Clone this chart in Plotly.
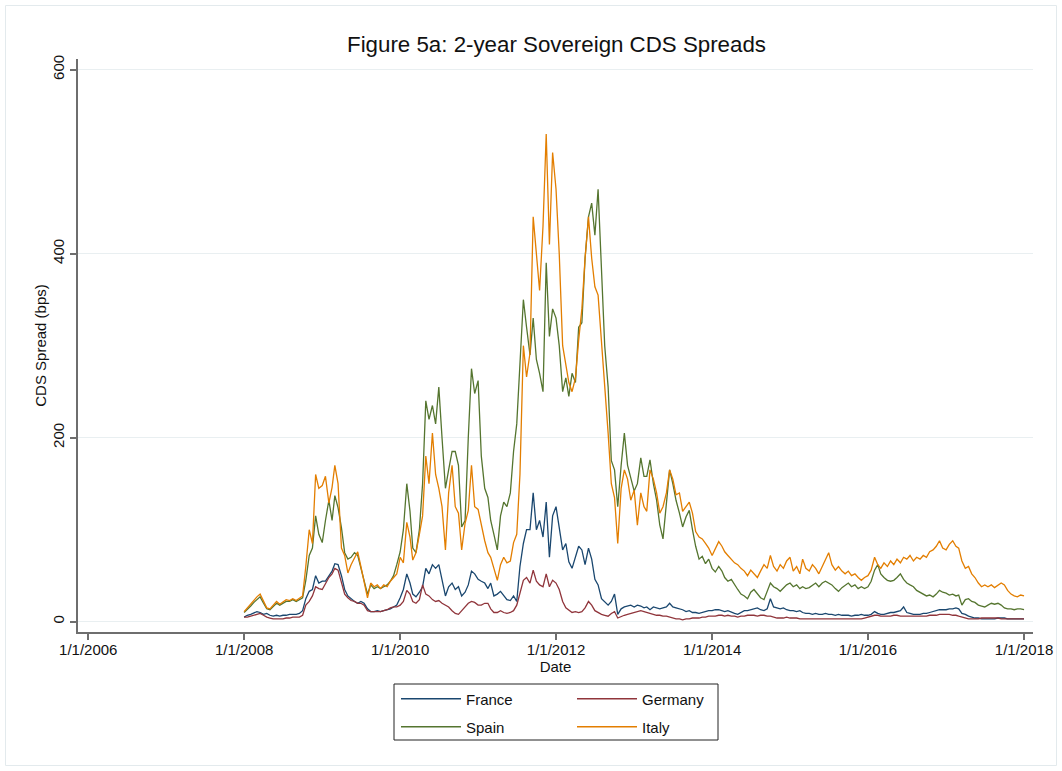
import plotly.graph_objects as go

# ---------------- data (semi-monthly readings, 2008-01-01 .. 2018-01-01) ----------------
dates = [f"{y}-{m:02d}-{d:02d}" for y in range(2008, 2018) for m in range(1, 13) for d in (1, 16)] + ["2018-01-01"]

italy = [
    11, 15, 20, 24, 27, 30, 22, 15, 14, 18, 22, 19, 22, 24, 23, 25, 23, 26, 28, 60, 100, 85, 160, 145,
    148, 158, 129, 146, 170, 150, 80, 72, 53, 62, 70, 76, 60, 42, 26, 42, 38, 40, 36, 40, 38, 44, 48, 52,
    70, 64, 108, 92, 67, 75, 95, 115, 180, 150, 205, 160, 145, 125, 78, 140, 170, 125, 118, 78, 107, 121, 170, 125,
    122, 105, 88, 75, 70, 58, 45, 62, 70, 64, 66, 86, 95, 160, 300, 266, 292, 440, 400, 360, 430, 530, 410, 510,
    470, 400, 300, 280, 260, 250, 265, 306, 340, 395, 440, 395, 364, 355, 305, 260, 205, 150, 135, 85, 145, 165, 155, 132,
    143, 105, 140, 125, 120, 165, 155, 140, 118, 125, 140, 165, 155, 138, 140, 120, 125, 130, 118, 98, 92, 90, 85, 80,
    72, 80, 87, 82, 76, 72, 68, 64, 62, 58, 55, 50, 56, 52, 48, 55, 62, 58, 72, 60, 55, 62, 58, 66,
    70, 55, 60, 52, 68, 58, 55, 62, 58, 52, 60, 66, 75, 62, 56, 60, 55, 52, 55, 50, 52, 48, 45, 48,
    50, 56, 70, 62, 58, 64, 60, 66, 62, 68, 64, 70, 68, 72, 66, 70, 68, 72, 70, 76, 78, 82, 88, 80,
    78, 84, 88, 82, 80, 66, 58, 60, 52, 48, 42, 38, 40, 38, 40, 37, 40, 42, 40, 34, 30, 28, 27, 29,
    28,
]

spain = [
    10, 13, 17, 21, 24, 27, 20, 14, 13, 16, 20, 18, 20, 22, 22, 24, 22, 24, 26, 45, 72, 80, 115, 95,
    86, 110, 132, 110, 137, 124, 102, 75, 68, 70, 75, 72, 58, 45, 30, 40, 36, 38, 36, 38, 40, 44, 50, 62,
    76, 100, 150, 120, 80, 75, 100, 150, 240, 220, 235, 215, 255, 200, 145, 165, 185, 185, 170, 103, 110, 200, 275, 248,
    262, 180, 145, 135, 110, 95, 78, 115, 130, 125, 140, 185, 215, 280, 350, 320, 290, 330, 285, 270, 250, 390, 310, 340,
    330, 300, 250, 265, 245, 270, 260, 320, 325, 395, 440, 455, 420, 470, 390, 300, 255, 175, 165, 125, 170, 205, 170, 155,
    142, 150, 178, 158, 158, 176, 150, 132, 105, 90, 125, 165, 150, 132, 118, 103, 114, 121, 100, 82, 68, 71, 63, 68,
    58, 54, 60, 55, 48, 44, 46, 40, 35, 30, 28, 25, 32, 35, 30, 26, 24, 32, 42, 38, 36, 33, 36, 40,
    42, 38, 40, 36, 38, 36, 37, 40, 42, 38, 42, 44, 42, 40, 36, 33, 37, 40, 42, 38, 40, 36, 38, 36,
    38, 44, 56, 62, 52, 48, 45, 44, 45, 48, 52, 46, 42, 40, 38, 34, 32, 30, 28, 29, 27, 30, 34, 32,
    31, 29, 30, 28, 29, 18, 24, 25, 22, 21, 18, 17, 16, 18, 20, 19, 20, 18, 15, 14, 14, 13, 14, 14,
    13,
]

france = [
    5, 7, 8, 10, 11, 10, 8, 9, 7, 6, 7, 6, 7, 7, 8, 8, 8, 9, 12, 25, 33, 35, 50, 42,
    44, 44, 50, 55, 63, 62, 50, 35, 28, 25, 22, 20, 22, 20, 14, 11, 11, 12, 11, 12, 13, 14, 16, 18,
    26, 35, 52, 42, 30, 27, 32, 38, 58, 52, 62, 58, 62, 45, 28, 38, 42, 35, 38, 28, 32, 40, 55, 52,
    46, 44, 42, 36, 42, 28, 30, 33, 28, 24, 23, 28, 22, 60, 85, 100, 100, 140, 100, 110, 92, 130, 70, 115,
    125, 100, 78, 85, 65, 58, 72, 82, 78, 62, 80, 68, 46, 40, 25, 22, 18, 22, 30, 8, 14, 16, 17, 18,
    16, 18, 17, 15, 16, 13, 16, 15, 14, 15, 16, 20, 16, 15, 14, 13, 11, 12, 10, 10, 9, 10, 11, 12,
    12, 13, 13, 12, 11, 12, 10, 9, 8, 10, 12, 12, 13, 14, 15, 13, 12, 14, 25, 16, 15, 14, 15, 13,
    12, 12, 11, 12, 10, 9, 9, 8, 9, 8, 8, 9, 8, 8, 7, 8, 7, 7, 7, 6, 7, 7, 8, 7,
    7, 8, 11, 9, 8, 8, 9, 10, 10, 11, 12, 16, 10, 9, 8, 8, 8, 9, 9, 10, 11, 12, 13, 13,
    13, 14, 14, 15, 14, 9, 8, 6, 5, 4, 4, 3, 3, 3, 3, 3, 4, 4, 4, 3, 3, 3, 3, 3,
    3,
]

germany = [
    5, 5, 6, 7, 8, 9, 7, 5, 4, 3, 3, 3, 3, 4, 4, 5, 5, 5, 7, 18, 22, 28, 38, 36,
    35, 42, 48, 52, 58, 56, 42, 30, 26, 23, 22, 20, 20, 18, 12, 11, 11, 11, 11, 12, 13, 15, 16, 16,
    18, 22, 34, 30, 22, 20, 24, 40, 30, 28, 24, 22, 23, 20, 18, 16, 12, 9, 8, 12, 16, 20, 22, 21,
    18, 18, 20, 20, 14, 10, 10, 12, 10, 9, 10, 12, 18, 30, 45, 48, 42, 56, 44, 40, 38, 52, 38, 45,
    42, 35, 22, 15, 13, 10, 11, 10, 11, 15, 22, 18, 12, 10, 8, 7, 6, 9, 11, 4, 6, 7, 8, 9,
    10, 11, 12, 11, 10, 9, 8, 7, 7, 6, 6, 5, 4, 3, 3, 2, 3, 3, 4, 4, 4, 5, 5, 6,
    6, 6, 7, 7, 6, 7, 6, 6, 5, 6, 6, 7, 7, 7, 6, 7, 7, 6, 6, 5, 4, 4, 4, 5,
    4, 4, 4, 3, 3, 3, 3, 3, 3, 3, 3, 3, 3, 3, 3, 3, 3, 3, 3, 3, 3, 3, 3, 4,
    5, 6, 7, 7, 6, 6, 6, 6, 7, 7, 6, 6, 6, 6, 6, 6, 6, 6, 6, 7, 7, 7, 8, 8,
    8, 8, 7, 7, 6, 5, 4, 3, 3, 3, 3, 4, 4, 4, 4, 4, 4, 3, 3, 3, 3, 3, 3, 3,
    3,
]

x_tick_dates = ["2006-01-01", "2008-01-01", "2010-01-01", "2012-01-01", "2014-01-01", "2016-01-01", "2018-01-01"]
x_tick_labels = ["1/1/2006", "1/1/2008", "1/1/2010", "1/1/2012", "1/1/2014", "1/1/2016", "1/1/2018"]
y_ticks = [0, 200, 400, 600]

# ---------------- figure ----------------
FONT = "Liberation Sans, Arial, Helvetica, sans-serif"
AXIS_COL = "#6e6e6e"
GRID_COL = "#e9eff1"
TXT = "#111111"

series = [
    ("France", france, "#1a476f", "legend"),
    ("Germany", germany, "#90353b", "legend"),
    ("Spain", spain, "#55752f", "legend2"),
    ("Italy", italy, "#e37e00", "legend2"),
]

fig = go.Figure()
for name, vals, col, leg in series:
    fig.add_trace(go.Scatter(x=dates, y=vals, mode="lines", name=name,
                             line=dict(color=col, width=1.3), legend=leg))

L, R, T, B = 78, 29, 59, 139
W, H = 1062, 771
pw, ph = W - L - R, H - T - B


def px(x):
    return (x - L) / pw


def py(y):
    return (H - B - y) / ph


leg_common = dict(orientation="h", xanchor="left", yanchor="middle",
                  font=dict(family=FONT, size=15, color=TXT),
                  bgcolor="rgba(0,0,0,0)", borderwidth=0,
                  entrywidth=101, entrywidthmode="pixels", itemwidth=60,
                  traceorder="normal")

fig.update_layout(
    width=W, height=H,
    margin=dict(l=L, r=R, t=T, b=B, autoexpand=False),
    paper_bgcolor="white", plot_bgcolor="white",
    font=dict(family=FONT, size=15, color=TXT),
    title=dict(text="Figure 5a: 2-year Sovereign CDS Spreads", xref="paper", x=px(556.5), xanchor="center",
               yref="container", y=1 - 44 / H, yanchor="middle", font=dict(family=FONT, size=22.3, color=TXT)),
    xaxis=dict(range=["2005-11-14", "2018-02-12"], tickmode="array",
               tickvals=x_tick_dates, ticktext=x_tick_labels,
               showgrid=False, zeroline=False, showline=True, linecolor=AXIS_COL, linewidth=1.5,
               ticks="outside", ticklen=6, tickcolor=AXIS_COL, tickwidth=1.5,
               ticklabelstandoff=-3,
               tickfont=dict(family=FONT, size=15, color=TXT),
               title=dict(text="Date", standoff=0, font=dict(family=FONT, size=15, color=TXT))),
    yaxis=dict(range=[-11.2, 611.6], tickmode="array", tickvals=y_ticks,
               showgrid=True, gridcolor=GRID_COL, gridwidth=1, zeroline=False,
               showline=True, linecolor=AXIS_COL, linewidth=1.5,
               ticks="outside", ticklen=6, tickcolor=AXIS_COL, tickwidth=1.5, tickangle=-90,
               tickfont=dict(family=FONT, size=15, color=TXT),
               title=dict(text="CDS Spread (bps)", standoff=0, font=dict(family=FONT, size=15, color=TXT))),
    legend=dict(x=px(396), y=py(699), **leg_common),
    legend2=dict(x=px(396), y=py(727), **leg_common),
    showlegend=True,
    shapes=[
        dict(type="rect", xref="paper", yref="paper", x0=px(394), x1=px(718), y0=py(740), y1=py(684),
             line=dict(color="#222222", width=1), fillcolor="rgba(0,0,0,0)", layer="above"),
        dict(type="rect", xref="paper", yref="paper", x0=px(5.5), x1=px(1056.5), y0=py(765.5), y1=py(5.5),
             line=dict(color="#e3eaed", width=1), fillcolor="rgba(0,0,0,0)", layer="below"),
    ],
)

fig.write_html("out.html", config={"displayModeBar": False},
               post_script="document.body.style.margin='0';document.body.style.overflow='hidden';")
